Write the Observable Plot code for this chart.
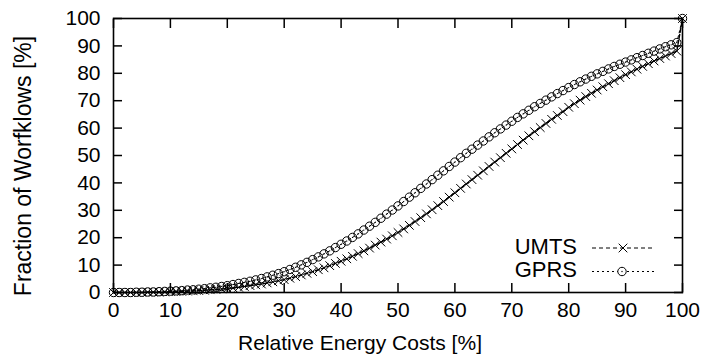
<!DOCTYPE html>
<html><head><meta charset="utf-8">
<script src="https://cdn.jsdelivr.net/npm/d3@7"></script>
<script src="https://cdn.jsdelivr.net/npm/@observablehq/plot@0.6"></script>
<style>
body{margin:0;background:#fff;}
#chart{position:relative;width:705px;height:358px;}
</style>
</head><body><div id="chart"></div>
<script>
// Relative energy costs [%] (x)
const energy = [0,1,2,3,4,5,6,7,8,9,10,11,12,13,14,15,16,17,18,19,20,21,22,23,24,25,26,27,28,29,30,31,32,33,34,35,36,37,38,39,40,41,42,43,44,45,46,47,48,49,50,51,52,53,54,55,56,57,58,59,60,61,62,63,64,65,66,67,68,69,70,71,72,73,74,75,76,77,78,79,80,81,82,83,84,85,86,87,88,89,90,91,92,93,94,95,96,97,98,99,100];
// Fraction of workflows [%], UMTS
const umts = [0,0,0,0,0,0,0.1,0.1,0.1,0.2,0.3,0.3,0.4,0.5,0.6,0.7,0.8,1.0,1.1,1.3,1.5,1.7,1.9,2.2,2.5,2.8,3.1,3.5,3.9,4.3,4.7,5.2,5.8,6.4,7.0,7.6,8.3,9.0,9.8,10.6,11.4,12.3,13.2,14.2,15.2,16.2,17.3,18.4,19.5,20.7,21.9,23.2,24.5,25.9,27.3,28.7,30.2,31.7,33.2,34.8,36.4,38.0,39.6,41.2,42.8,44.4,46.0,47.6,49.2,50.8,52.4,54.0,55.6,57.2,58.7,60.2,61.7,63.2,64.6,66.0,67.6,68.9,70.2,71.5,72.7,73.9,75.1,76.2,77.3,78.4,79.5,80.5,81.5,82.5,83.5,84.5,85.4,86.3,87.2,88.1,100];
// Fraction of workflows [%], GPRS
const gprs = [0,0,0,0,0.1,0.1,0.2,0.2,0.3,0.4,0.5,0.6,0.7,0.9,1.0,1.2,1.4,1.7,1.9,2.2,2.5,2.9,3.3,3.7,4.1,4.6,5.1,5.7,6.3,6.9,7.6,8.4,9.2,10.1,11.0,12.0,13.0,14.1,15.2,16.4,17.6,18.8,20.1,21.4,22.8,24.2,25.6,27.1,28.6,30.1,31.6,33.2,34.8,36.4,38.0,39.6,41.2,42.8,44.4,46.0,47.6,49.2,50.8,52.3,53.8,55.3,56.8,58.3,59.7,61.1,62.5,63.9,65.2,66.5,67.8,69.0,70.2,71.4,72.6,73.7,74.8,75.9,76.9,77.9,78.9,79.8,80.7,81.6,82.5,83.3,84.1,84.9,85.7,86.5,87.3,88.1,88.9,89.7,90.4,91.2,100];
const xTicks = [0,10,20,30,40,50,60,70,80,90,100];
const yTicks = [0,10,20,30,40,50,60,70,80,90,100];
const seriesNames = ["UMTS","GPRS"];
const xTitle = "Relative Energy Costs [%]";
const yTitle = "Fraction of Worfklows [%]";

const umtsRows = energy.map((x, i) => ({x, y: umts[i]}));
const gprsRows = energy.map((x, i) => ({x, y: gprs[i]}));

const FONT = "'Liberation Sans', Arial, Helvetica, sans-serif";
const FS = 21;

const plot = Plot.plot({
  width: 705, height: 358,
  marginLeft: 113, marginRight: 23, marginTop: 18, marginBottom: 66,
  style: {fontFamily: FONT, fontSize: FS + "px", color: "black", background: "white", overflow: "visible"},
  x: {domain: [0, 100]},
  y: {domain: [0, 100]},
  marks: [
    Plot.line(gprsRows, {x: "x", y: "y", stroke: "black", strokeWidth: 1, strokeDasharray: "2,3"}),
    Plot.line(umtsRows, {x: "x", y: "y", stroke: "black", strokeWidth: 1.4, strokeDasharray: "4,2"}),
    Plot.dot(umtsRows, {x: "x", y: "y", symbol: "times", r: 4, stroke: "black", strokeWidth: 1}),
    Plot.dot(gprsRows, {x: "x", y: "y", symbol: "circle", r: 4.2, stroke: "black", fill: "none", strokeWidth: 1}),
    Plot.dot(gprsRows, {x: "x", y: "y", r: 0.6, fill: "black", stroke: null}),
    Plot.axisX(xTicks, {anchor: "bottom", tickSize: -9, tickPadding: 19, strokeWidth: 1.5, label: null, fontSize: FS}),
    Plot.axisX(xTicks, {anchor: "top", tickSize: -9, tickFormat: () => "", strokeWidth: 1.5, label: null}),
    Plot.axisY(yTicks, {anchor: "left", tickSize: -9, tickPadding: 22, strokeWidth: 1.5, label: null, fontSize: FS}),
    Plot.axisY(yTicks, {anchor: "right", tickSize: -9, tickFormat: () => "", strokeWidth: 1.5, label: null}),
    Plot.frame({stroke: "black", strokeWidth: 1.6})
  ]
});
document.getElementById("chart").appendChild(plot);

const svg = d3.select(plot);
// axis titles
svg.append("text").attr("x", 360).attr("y", 350).attr("text-anchor", "middle")
  .attr("font-family", FONT).attr("font-size", 21).attr("fill", "black").text(xTitle);
svg.append("text").attr("transform", "translate(31,166) rotate(-90)").attr("text-anchor", "middle")
  .attr("font-family", FONT).attr("font-size", 23).attr("fill", "black").text(yTitle);

// legend (key) inside plot
const key = svg.append("g");
const rowsY = [248, 271.5];
const dashes = ["4,3", "2,3"];
seriesNames.forEach((name, i) => {
  const y = rowsY[i];
  key.append("text").attr("x", 577).attr("y", y).attr("text-anchor", "end").attr("dominant-baseline", "middle")
    .attr("font-family", FONT).attr("font-size", 22).attr("fill", "black").text(name);
  key.append("line").attr("x1", 592).attr("x2", 655).attr("y1", y).attr("y2", y)
    .attr("stroke", "black").attr("stroke-width", 1).attr("stroke-dasharray", dashes[i]);
  if (i === 0) {
    key.append("path").attr("d", d3.symbol(d3.symbolTimes, Math.PI * 4 * 4)()).attr("transform", `translate(623,${y})`)
      .attr("stroke", "black").attr("fill", "none");
  } else {
    key.append("circle").attr("cx", 622).attr("cy", y).attr("r", 4.2).attr("stroke", "black").attr("fill", "white");
    key.append("circle").attr("cx", 622).attr("cy", y).attr("r", 0.7).attr("fill", "black");
  }
});
</script>
</body></html>
